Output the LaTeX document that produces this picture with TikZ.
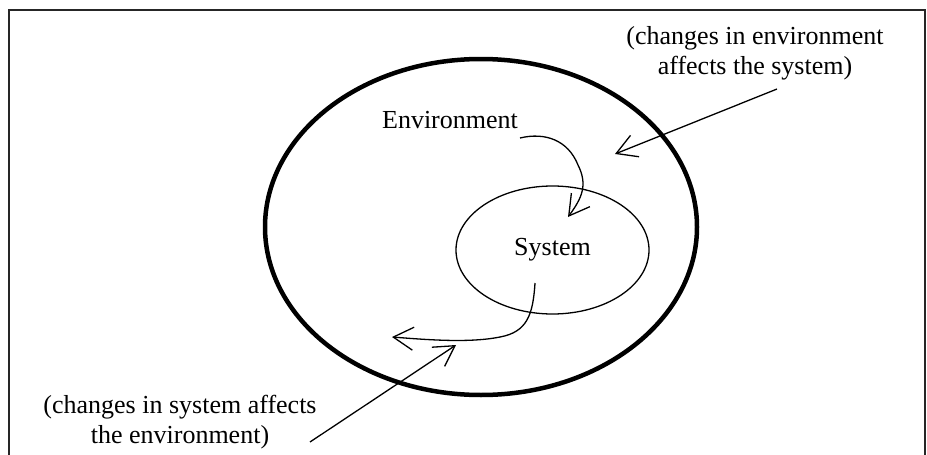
\documentclass[tikz,border=0pt]{standalone}
\usepackage{fontspec}
\setmainfont{Liberation Serif}
\usetikzlibrary{arrows.meta,shapes.geometric}
\begin{document}
\begin{tikzpicture}[x=1pt,y=-1pt,
  conn/.style={line width=1.3pt, -{Straight Barb[length=20pt,width=23pt,line width=1.3pt]}},
  lbl/.style={font=\fontsize{26}{29.5}\selectfont, inner sep=0pt, align=center},
  oval/.style={draw, ellipse, inner sep=0pt},
]
\useasboundingbox (0,0) rectangle (927,455);
\draw[line width=1.8pt, black!85] (9,470) -- (9,10) -- (925,10) -- (925,470);
% ellipses
\node[oval, line width=4.5pt, minimum width=432pt, minimum height=336pt] (env) at (481,227) {};
\node[oval, line width=1.3pt, minimum width=193pt, minimum height=128pt, lbl] (sys) at (552.5,250) {System};
% labels
\node[lbl] (envlbl) at (450,120) {Environment};
\node[lbl] (toplbl) at (755,53.5) {(changes in environment\\affects the system)};
\node[lbl] (botlbl) at (180,422) {(changes in system affects\\the environment)};
% connector end points
\coordinate (a1s) at (777,89);
\coordinate (a1e) at (615,154);
\coordinate (a2s) at (310,442);
\coordinate (a2e) at (456,345);
\coordinate (c1s) at (520,138);
\coordinate (c1e) at (568,217);
\coordinate (c2s) at (535,283);
\coordinate (c2e) at (392,337);
% arrows
\draw[conn] (a1s) -- (a1e);
\draw[conn] (a2s) -- (a2e);
\draw[conn] (c1s) .. controls (545,132) and (568,140) .. (578,165)
                  .. controls (588,185) and (582,198) .. (c1e);
\draw[conn] (c2s) .. controls (533,315) and (527,332) .. (500,337)
                  .. controls (470,343) and (430,340) .. (c2e);
\end{tikzpicture}
\end{document}
